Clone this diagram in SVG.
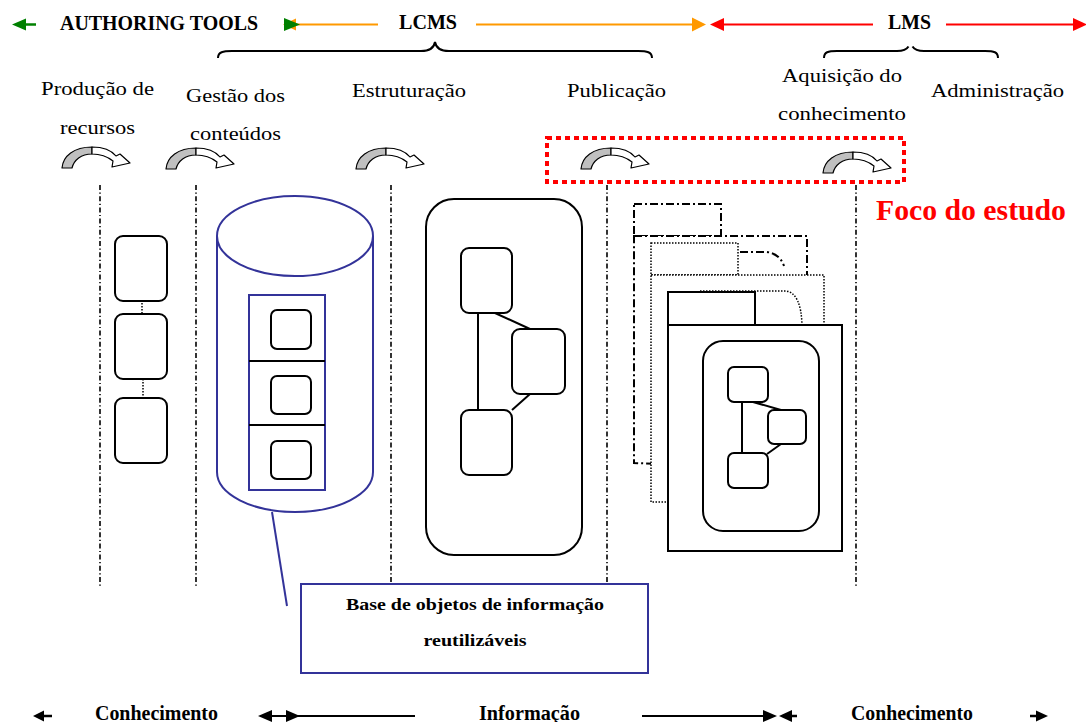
<svg xmlns="http://www.w3.org/2000/svg" width="1086" height="722" viewBox="0 0 1086 722">
  <style>
    .bold { font-family: "Liberation Serif", "Times New Roman", serif; font-weight: bold; fill: #000; }
    .label { font-family: "Liberation Serif", "Times New Roman", serif; font-size: 19px; fill: #000; }
    .box { fill: #fff; stroke: #000; stroke-width: 2; }
    .link { stroke: #000; stroke-width: 2; fill: none; }
    .divider { stroke: #000; stroke-width: 1.6; stroke-dasharray: 5 2.5 1.2 2.5; fill: none; }
    .blue { stroke: #333399; stroke-width: 2; }
    .dotted { stroke: #000; stroke-width: 1.5; stroke-dasharray: 1.5 1.5; }
    .dashdot { stroke: #000; stroke-width: 2; stroke-dasharray: 8 3 2 3; }
  </style>
  <defs>
    <!-- curved block arrow: grey rising band, white open head -->
    <g id="curl">
      <path d="M0,21 C1,9 12,0 30,0 L30,7 C19,7 12,13 10,21 Z" fill="#c0c0c0" stroke="#000" stroke-width="1.2" stroke-linejoin="round"/>
      <path d="M30,0 C42,0 50,4 54,9 L58,7 L68,16 L50,20 L51,14 C46,10 39,7 30,7 Z" fill="#fff" stroke="#000" stroke-width="1.2" stroke-linejoin="round"/>
    </g>
  </defs>

  <rect width="1086" height="722" fill="#fff"/>

  <!-- top band: tool categories -->
  <g id="header">
    <line x1="22" y1="24.5" x2="36" y2="24.5" stroke="#008000" stroke-width="2.5"/>
    <polygon points="12,24.5 26,18.5 26,30.5" fill="#008000"/>
    <text class="bold" x="60" y="30" font-size="20" textLength="198" lengthAdjust="spacingAndGlyphs">AUTHORING TOOLS</text>

    <line x1="290" y1="24.5" x2="378" y2="24.5" stroke="#ff9900" stroke-width="2"/>
    <line x1="476" y1="24.5" x2="694" y2="24.5" stroke="#ff9900" stroke-width="2"/>
    <polygon points="283,24.5 296,18.5 296,30.5" fill="#ff9900"/>
    <polygon points="692,17.5 706,24.5 692,31.5" fill="#ff9900"/>
    <polygon points="284,18 300,24.5 284,31" fill="#008000"/>
    <text class="bold" x="399" y="29" font-size="20" textLength="58" lengthAdjust="spacingAndGlyphs">LCMS</text>

    <line x1="720" y1="24.5" x2="873" y2="24.5" stroke="#ff0000" stroke-width="2"/>
    <line x1="946" y1="24.5" x2="1078" y2="24.5" stroke="#ff0000" stroke-width="2"/>
    <polygon points="710,24.5 724,18 724,31" fill="#ff0000"/>
    <polygon points="1073,18 1087,24.5 1073,31" fill="#ff0000"/>
    <text class="bold" x="888" y="29" font-size="20" textLength="43" lengthAdjust="spacingAndGlyphs">LMS</text>

    <path class="link" d="M218,58 C218,52 223,51 232,51 L421,51 C430,51 434,48 435,42 C436,48 440,51 449,51 L638,51 C647,51 652,52 652,58"/>
    <path class="link" d="M824,58 C824,52 828,51 837,51 L897,51 C904,51 907,49 908.5,46.5 M912.5,46.5 C914,49 917,51 924,51 L985,51 C994,51 998,52 998,58"/>
  </g>

  <!-- process stage labels -->
  <g id="stage-labels">
    <text class="label" x="41" y="95" textLength="113" lengthAdjust="spacingAndGlyphs">Produção de</text>
    <text class="label" x="60" y="134" textLength="75" lengthAdjust="spacingAndGlyphs">recursos</text>
    <text class="label" x="186" y="102" textLength="99" lengthAdjust="spacingAndGlyphs">Gestão dos</text>
    <text class="label" x="190" y="140" textLength="91" lengthAdjust="spacingAndGlyphs">conteúdos</text>
    <text class="label" x="352" y="97" textLength="114" lengthAdjust="spacingAndGlyphs">Estruturação</text>
    <text class="label" x="567" y="97" textLength="99" lengthAdjust="spacingAndGlyphs">Publicação</text>
    <text class="label" x="782" y="82" textLength="120" lengthAdjust="spacingAndGlyphs">Aquisição do</text>
    <text class="label" x="778" y="120" textLength="128" lengthAdjust="spacingAndGlyphs">conhecimento</text>
    <text class="label" x="931" y="97" textLength="133" lengthAdjust="spacingAndGlyphs">Administração</text>
  </g>

  <!-- flow arrows under each stage -->
  <g id="curl-arrows">
    <use href="#curl" x="62" y="147"/>
    <use href="#curl" x="166" y="148"/>
    <use href="#curl" x="356" y="148"/>
    <use href="#curl" x="581" y="148"/>
    <use href="#curl" x="823" y="152"/>
  </g>

  <!-- stage boundaries -->
  <g id="dividers">
    <line class="divider" x1="100" y1="185" x2="100" y2="588"/>
    <line class="divider" x1="196" y1="185" x2="196" y2="588"/>
    <line class="divider" x1="391" y1="185" x2="391" y2="588"/>
    <line class="divider" x1="607" y1="185" x2="607" y2="588"/>
    <line class="divider" x1="856" y1="185" x2="856" y2="588"/>
  </g>

  <!-- highlighted study focus -->
  <g id="focus">
    <rect x="547" y="138" width="357" height="44" fill="none" stroke="#ff0000" stroke-width="4" stroke-dasharray="5 4"/>
    <text class="bold" x="876" y="220" font-size="29" style="fill:#ff0000" textLength="190" lengthAdjust="spacingAndGlyphs">Foco do estudo</text>
  </g>

  <!-- raw resources -->
  <g id="node-resources">
    <line class="dotted" x1="142" y1="300" x2="142" y2="314"/>
    <line class="dotted" x1="143" y1="379" x2="143" y2="398"/>
    <rect class="box" x="115" y="236" width="52" height="65" rx="8"/>
    <rect class="box" x="115" y="314" width="52" height="65" rx="8"/>
    <rect class="box" x="115" y="398" width="52" height="65" rx="8"/>
  </g>

  <!-- content repository -->
  <g id="node-repository">
    <path class="blue" fill="#fff" d="M217,236 L217,472 A78,40 0 0 0 373,472 L373,236"/>
    <ellipse class="blue" cx="295" cy="236" rx="78" ry="40" fill="#fff"/>
    <rect class="blue" x="249" y="295" width="76" height="195" fill="#fff"/>
    <line x1="249" y1="361" x2="325" y2="361" stroke="#000" stroke-width="1.8"/>
    <line x1="249" y1="425" x2="325" y2="425" stroke="#000" stroke-width="1.8"/>
    <rect class="box" x="271" y="310" width="40" height="39" rx="6"/>
    <rect class="box" x="271" y="376" width="40" height="38" rx="6"/>
    <rect class="box" x="271" y="441" width="40" height="38" rx="6"/>
  </g>

  <!-- structured course -->
  <g id="node-structure">
    <rect class="box" x="426" y="199" width="156" height="356" rx="28"/>
    <line class="link" x1="478" y1="313" x2="478" y2="410"/>
    <line class="link" x1="495" y1="313" x2="530" y2="329"/>
    <line class="link" x1="530" y1="394" x2="512" y2="410"/>
    <rect class="box" x="461" y="248" width="51" height="65" rx="8"/>
    <rect class="box" x="512" y="329" width="53" height="65" rx="8"/>
    <rect class="box" x="461" y="410" width="51" height="65" rx="8"/>
  </g>

  <!-- published page stack -->
  <g id="node-publication">
    <!-- back page, dash-dot -->
    <rect class="dashdot" x="634" y="204" width="87" height="32" fill="#fff"/>
    <path class="dashdot" fill="#fff" d="M634,236 L807,236 L807,470 L634,463 Z"/>
    <path class="dashdot" fill="none" d="M740,252 L767,252 Q780,254 784,266"/>
    <!-- second page, dotted -->
    <rect class="dotted" x="651" y="243" width="87" height="32" fill="#fff"/>
    <rect class="dotted" x="651" y="275" width="173" height="227" fill="#fff"/>
    <path class="dotted" fill="none" d="M700,291 L786,291 Q801,293 802,325"/>
    <!-- front page -->
    <rect class="box" x="668" y="292" width="87" height="33"/>
    <rect class="box" x="668" y="325" width="174" height="226"/>
    <rect class="box" x="703" y="341" width="116" height="190" rx="20"/>
    <line class="link" x1="742" y1="402" x2="742" y2="453"/>
    <line class="link" x1="753" y1="402" x2="781" y2="410"/>
    <line class="link" x1="781" y1="444" x2="767" y2="454"/>
    <rect class="box" x="728" y="367" width="40" height="35" rx="6"/>
    <rect class="box" x="768" y="410" width="38" height="34" rx="6"/>
    <rect class="box" x="728" y="453" width="40" height="35" rx="6"/>
  </g>

  <!-- callout pointer -->
  <g id="connectors">
    <line class="blue" x1="272" y1="512" x2="287" y2="606"/>
  </g>

  <!-- callout caption -->
  <g id="node-callout">
    <rect class="blue" x="301" y="584" width="347" height="89" fill="#fff"/>
    <text class="bold" x="475" y="610" font-size="17" text-anchor="middle" textLength="258" lengthAdjust="spacingAndGlyphs">Base de objetos de informação</text>
    <text class="bold" x="475" y="646" font-size="17" text-anchor="middle" textLength="103" lengthAdjust="spacingAndGlyphs">reutilizáveis</text>
  </g>

  <!-- bottom band: knowledge / information -->
  <g id="footer">
    <line x1="40" y1="716" x2="52" y2="716" stroke="#000" stroke-width="2.5"/>
    <polygon points="33,716 44,710.5 44,721.5" fill="#000"/>
    <text class="bold" x="95" y="719.5" font-size="18" transform="translate(0,-84) scale(1,1.117)" textLength="123" lengthAdjust="spacingAndGlyphs">Conhecimento</text>

    <line x1="266" y1="716" x2="415" y2="716" stroke="#000" stroke-width="2"/>
    <polygon points="258,716 272,710 272,722" fill="#000"/>
    <polygon points="286,710 300,716 286,722" fill="#000"/>
    <text class="bold" x="479" y="719.5" font-size="18" transform="translate(0,-84) scale(1,1.117)" textLength="101" lengthAdjust="spacingAndGlyphs">Informação</text>

    <line x1="642" y1="716" x2="766" y2="716" stroke="#000" stroke-width="2"/>
    <polygon points="763,710 777,716 763,722" fill="#000"/>
    <polygon points="779,716 792,710 792,722" fill="#000"/>
    <line x1="790" y1="716" x2="797" y2="716" stroke="#000" stroke-width="2.5"/>
    <text class="bold" x="851" y="719.5" font-size="18" transform="translate(0,-84) scale(1,1.117)" textLength="122" lengthAdjust="spacingAndGlyphs">Conhecimento</text>

    <line x1="1030" y1="716" x2="1040" y2="716" stroke="#000" stroke-width="2.5"/>
    <polygon points="1036,710.5 1048,716 1036,721.5" fill="#000"/>
  </g>
</svg>
